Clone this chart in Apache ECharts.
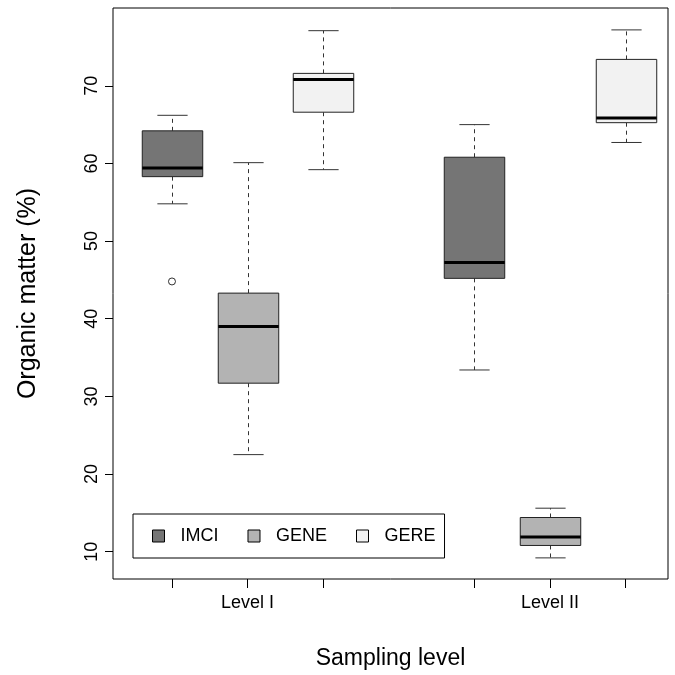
<!DOCTYPE html>
<html>
<head>
<meta charset="utf-8">
<script src="https://cdn.jsdelivr.net/npm/echarts@6/dist/echarts.min.js"></script>
<style>
  html, body { margin: 0; padding: 0; background: #ffffff; }
  #chart { width: 675px; height: 675px; }
</style>
</head>
<body>
<div id="chart"></div>
<script>
// Organic matter by sampling level and treatment
const levels = ['Level I', 'Level II'];
const treatments = ['IMCI', 'GENE', 'GERE'];
const fills = ['#757575', '#b3b3b3', '#f2f2f2'];
// box centres on the x scale: [Level I, Level II]
const imciPos = [1, 5];
const genePos = [2, 6];
const gerePos = [3, 7];
const levelTicks = [2, 6];
const boxTicks = [1, 2, 3, 5, 6, 7];
// [lower whisker, Q1, median, Q3, upper whisker] per level
const imciStats = [[54.8, 58.3, 59.4, 64.2, 66.2], [33.4, 45.2, 47.25, 60.8, 65.0]];
const geneStats = [[22.5, 31.7, 39.0, 43.3, 60.1], [9.2, 10.8, 11.9, 14.4, 15.6]];
const gereStats = [[59.2, 66.6, 70.8, 71.6, 77.1], [62.7, 65.25, 65.85, 73.4, 77.2]];
const imciOutliers = [[1, 44.8]];
const yTicks = [10, 20, 30, 40, 50, 60, 70];

const FONT = "'Liberation Sans', Arial, Helvetica, sans-serif";
const BOX_W = 0.8;
const CAP_W = 0.4;

function rows(pos, stats) {
  return stats.map((s, i) => [pos[i]].concat(s));
}

function renderBox(params, api) {
  const x = api.value(0);
  const lo = api.value(1), q1 = api.value(2), med = api.value(3), q3 = api.value(4), hi = api.value(5);
  const pLo = api.coord([x, lo]);
  const pQ1 = api.coord([x, q1]);
  const pMed = api.coord([x, med]);
  const pQ3 = api.coord([x, q3]);
  const pHi = api.coord([x, hi]);
  const halfBox = api.size([BOX_W, 0])[0] / 2;
  const halfCap = api.size([CAP_W, 0])[0] / 2;
  const cx = Math.round(pMed[0]) + 0.5;
  const dash = { stroke: '#333', lineWidth: 1, lineDash: [4, 4] };
  const solid = { stroke: '#333', lineWidth: 1 };
  return {
    type: 'group',
    children: [
      { type: 'line', shape: { x1: cx, y1: pQ3[1], x2: cx, y2: pHi[1] }, style: dash },
      { type: 'line', shape: { x1: cx, y1: pQ1[1], x2: cx, y2: pLo[1] }, style: dash },
      { type: 'line', shape: { x1: cx - halfCap, y1: pHi[1], x2: cx + halfCap, y2: pHi[1] }, style: solid },
      { type: 'line', shape: { x1: cx - halfCap, y1: pLo[1], x2: cx + halfCap, y2: pLo[1] }, style: solid },
      {
        type: 'rect',
        shape: { x: cx - halfBox, y: pQ3[1], width: 2 * halfBox, height: pQ1[1] - pQ3[1] },
        style: { fill: api.visual('color'), stroke: '#222', lineWidth: 1 }
      },
      { type: 'line', shape: { x1: cx - halfBox, y1: pMed[1], x2: cx + halfBox, y2: pMed[1] },
        style: { stroke: '#000', lineWidth: 3 } }
    ]
  };
}

const allStats = [imciStats, geneStats, gereStats];
const allPos = [imciPos, genePos, gerePos];

const boxSeries = treatments.map((name, i) => ({
  name: name,
  type: 'custom',
  renderItem: renderBox,
  itemStyle: { color: fills[i] },
  encode: { x: 0, y: [1, 2, 3, 4, 5] },
  data: rows(allPos[i], allStats[i]),
  z: 2
}));

const chart = echarts.init(document.getElementById('chart'), null, { renderer: 'canvas' });
chart.setOption({
  animation: false,
  backgroundColor: '#ffffff',
  textStyle: { fontFamily: FONT, color: '#000' },
  grid: {
    left: 113, top: 8, right: 7, bottom: 95,
    show: true, borderColor: '#000', borderWidth: 1, backgroundColor: 'transparent'
  },
  legend: {
    data: treatments,
    left: 133, top: 514,
    orient: 'horizontal',
    icon: 'rect',
    itemWidth: 12, itemHeight: 12,
    itemGap: 29,
    padding: [13, 9, 13, 19],
    borderColor: '#000', borderWidth: 1,
    backgroundColor: '#ffffff',
    itemStyle: { borderColor: '#000', borderWidth: 1 },
    textStyle: { fontFamily: FONT, fontSize: 18, color: '#000', padding: [0, 0, 0, 11] },
    selectedMode: false
  },
  xAxis: {
    type: 'value',
    min: 0.22, max: 7.56,
    name: 'Sampling level',
    nameLocation: 'middle',
    nameGap: 68,
    nameTextStyle: { fontFamily: FONT, fontSize: 23, color: '#000' },
    axisLine: { show: false },
    splitLine: { show: false },
    axisTick: { show: true, length: 9, customValues: boxTicks, lineStyle: { color: '#000' } },
    axisLabel: {
      show: true, margin: 15, fontFamily: FONT, fontSize: 18, color: '#000',
      customValues: levelTicks,
      formatter: v => levels[levelTicks.indexOf(v)]
    }
  },
  yAxis: {
    type: 'value',
    min: 6.48, max: 80.02,
    name: 'Organic matter (%)',
    nameLocation: 'middle',
    nameRotate: 90,
    nameGap: 72,
    nameTextStyle: { fontFamily: FONT, fontSize: 25, color: '#000' },
    axisLine: { show: false },
    splitLine: { show: false },
    axisTick: { show: true, length: 8, customValues: yTicks, lineStyle: { color: '#000' } },
    axisLabel: {
      show: true, rotate: 90, margin: 12, fontFamily: FONT, fontSize: 18, color: '#000',
      customValues: yTicks
    }
  },
  series: boxSeries.concat([{
    name: 'IMCI outliers',
    type: 'scatter',
    data: imciOutliers,
    symbol: 'circle',
    symbolSize: 7,
    itemStyle: { color: 'rgba(0,0,0,0)', borderColor: '#000', borderWidth: 1 },
    z: 3
  }])
});
</script>
</body>
</html>
